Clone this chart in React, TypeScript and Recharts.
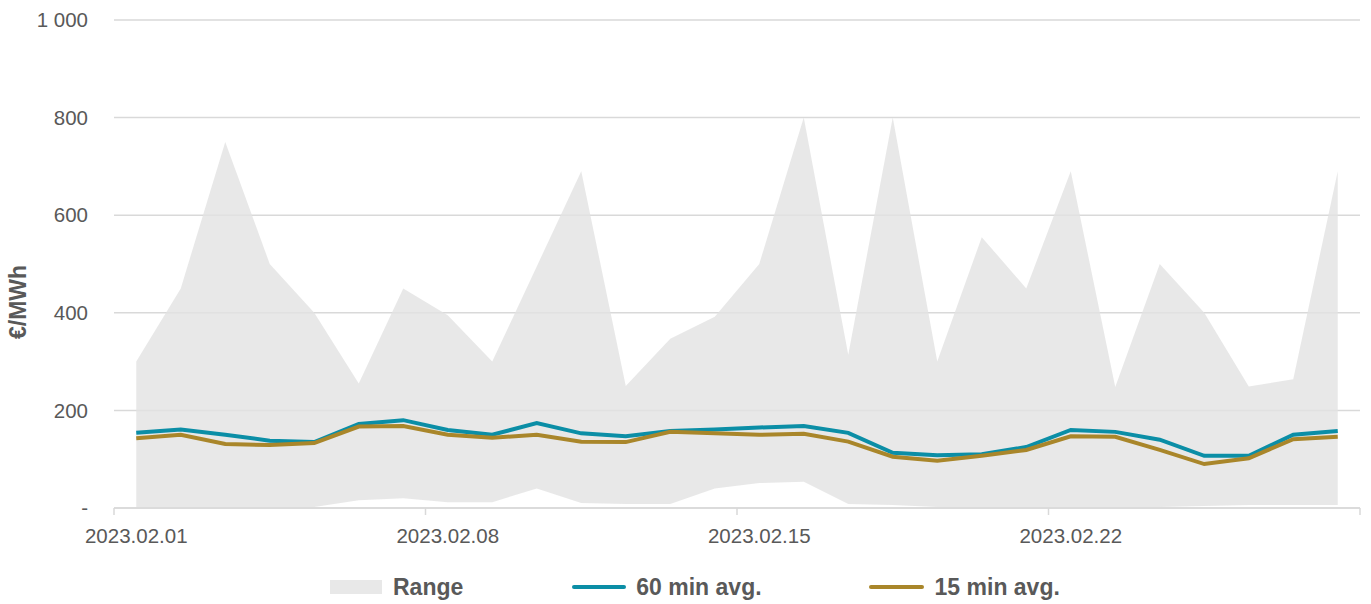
import React from 'react';
import {
  ComposedChart,
  Area,
  Line,
  XAxis,
  YAxis,
  CartesianGrid,
  Legend,
} from 'recharts';

const DAYS = [
  '2023.02.01', '2023.02.02', '2023.02.03', '2023.02.04', '2023.02.05', '2023.02.06', '2023.02.07',
  '2023.02.08', '2023.02.09', '2023.02.10', '2023.02.11', '2023.02.12', '2023.02.13', '2023.02.14',
  '2023.02.15', '2023.02.16', '2023.02.17', '2023.02.18', '2023.02.19', '2023.02.20', '2023.02.21',
  '2023.02.22', '2023.02.23', '2023.02.24', '2023.02.25', '2023.02.26', '2023.02.27', '2023.02.28',
];

const RANGE_MIN = [
  0, 0, 0, 0, 2, 16, 20, 12, 12, 40, 10, 8, 8, 40,
  51, 54, 8, 6, 2, 0, 0, 0, 0, 2, 4, 6, 6, 6,
];

const RANGE_MAX = [
  300, 450, 750, 500, 400, 255, 450, 395, 300, 495, 690, 250, 347, 392,
  500, 800, 314, 800, 300, 555, 450, 690, 248, 500, 400, 249, 264, 690,
];

const AVG_60 = [
  154, 161, 150, 138, 135, 172, 180, 160, 150, 174, 153, 147, 158, 161,
  165, 168, 154, 113, 108, 110, 125, 160, 156, 140, 107, 107, 150, 158,
];

const AVG_15 = [
  143, 150, 131, 129, 133, 167, 168, 150, 144, 150, 136, 135, 156, 153,
  150, 152, 136, 105, 97, 107, 119, 147, 146, 119, 90, 102, 141, 146,
];

const Y_TICKS = [0, 200, 400, 600, 800, 1000];
// tick marks sit between the days, every 7th boundary
const X_TICKS = [-0.5, 6.5, 13.5, 20.5, 27.5];

const CHART_W = 1371;
const CHART_H = 604;
const Y_AXIS_W = 114;
const MARGIN = { top: 20, right: 11, bottom: 0, left: 0 };
const HALF_BAND = (CHART_W - MARGIN.right - Y_AXIS_W) / DAYS.length / 2;

const TEXT = '#595959';
const GRID = '#D9D9D9';
const TEAL = '#0B8EA6';
const GOLD = '#A9862A';
const FONT = '"Liberation Sans", Arial, sans-serif';

const data = DAYS.map((d, i) => ({
  i,
  date: d,
  range: [RANGE_MIN[i], RANGE_MAX[i]],
  avg60: AVG_60[i],
  avg15: AVG_15[i],
}));

function DateTick(props: any) {
  const { x, y, payload } = props;
  const idx = Math.round(payload.value + 0.5);
  if (idx >= DAYS.length) return null;
  return (
    <text
      x={x + HALF_BAND}
      y={y}
      dy="0.71em"
      textAnchor="middle"
      fill={TEXT}
      fontSize={20.5}
      fontFamily={FONT}
    >
      {DAYS[idx]}
    </text>
  );
}

const formatY = (v: number) => (v === 0 ? '-' : v >= 1000 ? `${Math.floor(v / 1000)} ${String(v % 1000).padStart(3, '0')}` : String(v));

function ChartLegend() {
  const item = { display: 'flex', alignItems: 'center', height: 24 } as const;
  const label = { fontWeight: 700, fontSize: 23, color: TEXT, fontFamily: FONT, lineHeight: '24px' } as const;
  return (
    <div style={{ height: 46, boxSizing: 'border-box', paddingTop: 17, paddingLeft: 330, display: 'flex' }}>
      <div style={item}>
        <span style={{ width: 52, height: 14, background: '#E8E8E8', marginRight: 11 }} />
        <span style={label}>Range</span>
      </div>
      <div style={{ ...item, marginLeft: 109 }}>
        <span style={{ width: 54, height: 4, background: TEAL, borderRadius: 2, marginRight: 10 }} />
        <span style={label}>60 min avg.</span>
      </div>
      <div style={{ ...item, marginLeft: 107 }}>
        <span style={{ width: 55, height: 4, background: GOLD, borderRadius: 2, marginRight: 11 }} />
        <span style={label}>15 min avg.</span>
      </div>
    </div>
  );
}

export default function App() {
  return (
    <div style={{ position: 'absolute', left: 0, top: 0, width: CHART_W, height: CHART_H, background: '#fff' }}>
      <ComposedChart width={CHART_W} height={CHART_H} data={data} margin={MARGIN}>
        <CartesianGrid horizontal vertical={false} stroke={GRID} strokeWidth={1.5} />
        <XAxis
          dataKey="i"
          type="number"
          domain={[-0.5, DAYS.length - 0.5]}
          ticks={X_TICKS}
          interval={0}
          height={50}
          axisLine={{ stroke: GRID, strokeWidth: 1.5 }}
          tickLine={{ stroke: GRID, strokeWidth: 1.5 }}
          tickSize={7}
          tickMargin={13}
          tick={<DateTick />}
        />
        <YAxis
          type="number"
          domain={[0, 1000]}
          ticks={Y_TICKS}
          allowDataOverflow
          width={Y_AXIS_W}
          axisLine={false}
          tickLine={false}
          tickSize={0}
          tickMargin={26}
          tickFormatter={formatY}
          tick={{ fill: TEXT, fontSize: 20.5, fontFamily: FONT }}
          label={{
            content: () => (
              <text
                x={18}
                y={CHART_H / 2}
                transform={`rotate(-90, 18, ${CHART_H / 2})`}
                textAnchor="middle"
                dominantBaseline="central"
                fill={TEXT}
                fontSize={23}
                fontWeight={700}
                fontFamily={FONT}
              >
                €/MWh
              </text>
            ),
          }}
        />
        <Legend verticalAlign="bottom" height={46} content={() => <ChartLegend />} />
        <Area
          type="linear"
          dataKey="range"
          name="Range"
          fill="#E2E2E2"
          fillOpacity={0.8}
          stroke="none"
          dot={false}
          activeDot={false}
          isAnimationActive={false}
        />
        <Line
          type="linear"
          dataKey="avg60"
          name="60 min avg."
          stroke={TEAL}
          strokeWidth={4}
          dot={false}
          activeDot={false}
          isAnimationActive={false}
        />
        <Line
          type="linear"
          dataKey="avg15"
          name="15 min avg."
          stroke={GOLD}
          strokeWidth={4}
          dot={false}
          activeDot={false}
          isAnimationActive={false}
        />
      </ComposedChart>
    </div>
  );
}
